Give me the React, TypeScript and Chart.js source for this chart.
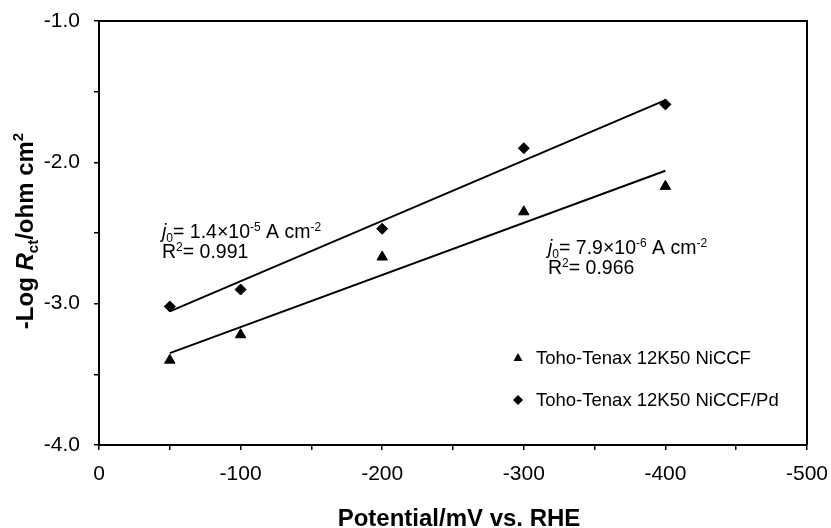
import React, { useEffect, useRef } from 'react';
import { Chart, registerables } from 'chart.js';

Chart.register(...registerables);

// ---- data ----
const potentials = [-50, -100, -200, -300, -400];
const niccf = [-3.40, -3.22, -2.67, -2.35, -2.17];
const niccfPd = [-3.02, -2.90, -2.47, -1.90, -1.59];
const fitPotentials = [-50, -400];
const niccfFit = [-3.35, -2.06];
const niccfPdFit = [-3.055, -1.56];
const seriesLabels = ['Toho-Tenax 12K50 NiCCF', 'Toho-Tenax 12K50 NiCCF/Pd'];
const xTitle = 'Potential/mV vs. RHE';
const annoPd = { j0: '1.4×10', exp: '-5', r2: '0.991' };
const annoNi = { j0: '7.9×10', exp: '-6', r2: '0.966' };

const FONT = '"Liberation Sans", Arial, Helvetica, sans-serif';

type Seg = { t: string; font: string; dy?: number };

function drawRich(ctx: CanvasRenderingContext2D, x: number, y: number, segs: Seg[], align: 'left' | 'center' = 'left') {
  let total = 0;
  for (const s of segs) {
    ctx.font = s.font;
    total += ctx.measureText(s.t).width;
  }
  let cx = align === 'center' ? x - total / 2 : x;
  ctx.textAlign = 'left';
  ctx.textBaseline = 'alphabetic';
  for (const s of segs) {
    ctx.font = s.font;
    ctx.fillText(s.t, cx, y + (s.dy || 0));
    cx += ctx.measureText(s.t).width;
  }
}

const decorPlugin = {
  id: 'decor',
  afterDraw(chart: any) {
    const ctx: CanvasRenderingContext2D = chart.ctx;
    const a = chart.chartArea;
    ctx.save();
    ctx.fillStyle = '#000';
    ctx.strokeStyle = '#000';
    // box top/right
    ctx.lineWidth = 2;
    ctx.beginPath();
    ctx.moveTo(a.left, a.top);
    ctx.lineTo(a.right, a.top);
    ctx.lineTo(a.right, a.bottom);
    ctx.stroke();

    const base = `19.5px ${FONT}`;
    const ital = `italic 19.5px ${FONT}`;
    const small = `12px ${FONT}`;

    const anno = (x: number, y: number, d: { j0: string; exp: string; r2: string }) => {
      drawRich(ctx, x, y, [
        { t: 'j', font: ital },
        { t: '0', font: small, dy: 4 },
        { t: '= ' + d.j0, font: base },
        { t: d.exp, font: small, dy: -7 },
        { t: ' A cm', font: base },
        { t: '-2', font: small, dy: -7 },
      ]);
      drawRich(ctx, x, y + 20, [
        { t: 'R', font: base },
        { t: '2', font: small, dy: -7 },
        { t: '= ' + d.r2, font: base },
      ]);
    };
    anno(162, 238, annoPd);
    anno(548, 254, annoNi);

    // legend
    const lf = `18.5px ${FONT}`;
    ctx.font = lf;
    ctx.textAlign = 'left';
    ctx.textBaseline = 'middle';
    const ly1 = 358, ly2 = 400, mx = 518, tx = 536;
    const r = 5;
    ctx.beginPath();
    ctx.moveTo(mx, ly1 - r);
    ctx.lineTo(mx + r * 0.9, ly1 + r * 0.6);
    ctx.lineTo(mx - r * 0.9, ly1 + r * 0.6);
    ctx.closePath();
    ctx.fill();
    ctx.fillText(seriesLabels[0], tx, ly1 + 1);
    ctx.beginPath();
    ctx.moveTo(mx, ly2 - r);
    ctx.lineTo(mx + r, ly2);
    ctx.lineTo(mx, ly2 + r);
    ctx.lineTo(mx - r, ly2);
    ctx.closePath();
    ctx.fill();
    ctx.fillText(seriesLabels[1], tx, ly2 + 1);

    // x title
    ctx.font = `bold 24px ${FONT}`;
    ctx.textAlign = 'center';
    ctx.textBaseline = 'alphabetic';
    ctx.fillText(xTitle, 459, 526);

    // y title (rotated)
    ctx.translate(33, 231);
    ctx.rotate(-Math.PI / 2);
    const tb = `bold 24px ${FONT}`;
    const tbi = `bold italic 24px ${FONT}`;
    const ts = `bold 15px ${FONT}`;
    drawRich(ctx, 0, 0, [
      { t: '-Log ', font: tb },
      { t: 'R', font: tbi },
      { t: 'ct', font: ts, dy: 5 },
      { t: '/ohm cm', font: tb },
      { t: '2', font: ts, dy: -10 },
    ], 'center');
    ctx.restore();
  },
};

export default function App() {
  const ref = useRef<HTMLCanvasElement>(null);
  useEffect(() => {
    if (!ref.current) return;
    const tickFont = { family: FONT, size: 21 };
    const chart = new Chart(ref.current, {
      type: 'scatter',
      data: {
        datasets: [
          {
            label: seriesLabels[0],
            data: potentials.map((x, i) => ({ x, y: niccf[i] })),
            pointStyle: 'triangle',
            pointRadius: 6,
            backgroundColor: '#000',
            borderColor: '#000',
            borderWidth: 1,
            showLine: false,
          },
          {
            label: seriesLabels[1],
            data: potentials.map((x, i) => ({ x, y: niccfPd[i] })),
            pointStyle: 'rectRot',
            pointRadius: 5.5,
            backgroundColor: '#000',
            borderColor: '#000',
            borderWidth: 1,
            showLine: false,
          },
          {
            label: 'fit NiCCF',
            data: fitPotentials.map((x, i) => ({ x, y: niccfFit[i] })),
            showLine: true,
            pointRadius: 0,
            borderColor: '#000',
            borderWidth: 2,
          },
          {
            label: 'fit NiCCF/Pd',
            data: fitPotentials.map((x, i) => ({ x, y: niccfPdFit[i] })),
            showLine: true,
            pointRadius: 0,
            borderColor: '#000',
            borderWidth: 2,
          },
        ],
      },
      options: {
        animation: false,
        responsive: false,
        devicePixelRatio: 1,
        layout: { padding: { left: 0, top: 21, right: 24, bottom: 0 } },
        plugins: { legend: { display: false }, tooltip: { enabled: false }, title: { display: false } },
        scales: {
          x: {
            type: 'linear',
            min: -500,
            max: 0,
            reverse: true,
            ticks: {
              stepSize: 50,
              autoSkip: false,
              maxRotation: 0,
              color: '#000',
              font: tickFont,
              padding: 12,
              callback: (v: any) => (Math.round(v) % 100 === 0 ? String(Math.round(v)) : ''),
            },
            grid: { drawOnChartArea: false, tickLength: 5, color: '#000', lineWidth: 1.5 },
            border: { color: '#000', width: 2 },
            afterFit: (s: any) => { s.height = 83; s.paddingLeft = 0; s.paddingRight = 0; },
          },
          y: {
            type: 'linear',
            min: -4,
            max: -1,
            ticks: {
              stepSize: 0.5,
              autoSkip: false,
              color: '#000',
              font: tickFont,
              padding: 14,
              callback: (v: any) => (Math.abs(v - Math.round(v)) < 1e-9 ? Number(v).toFixed(1) : ''),
            },
            grid: { drawOnChartArea: false, tickLength: 5, color: '#000', lineWidth: 1.5 },
            border: { color: '#000', width: 2 },
            afterFit: (s: any) => { s.width = 99; s.paddingTop = 0; s.paddingBottom = 0; },
          },
        },
      },
      plugins: [decorPlugin],
    } as any);
    return () => chart.destroy();
  }, []);
  return (
    <div style={{ position: 'fixed', left: 0, top: 0, width: 831, height: 528, background: '#fff' }}>
      <canvas ref={ref} width={831} height={528} style={{ display: 'block' }} />
    </div>
  );
}
